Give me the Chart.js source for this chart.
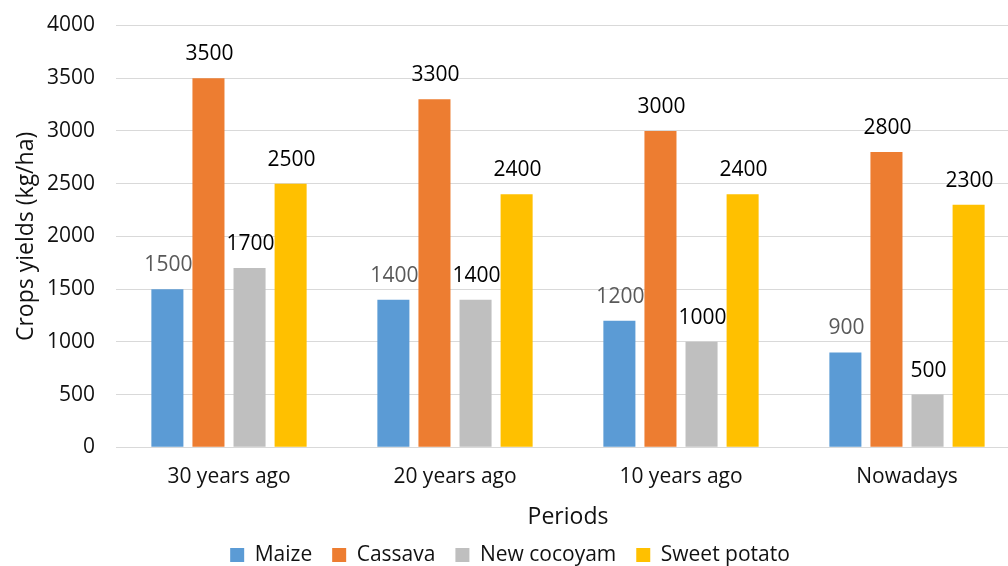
<!DOCTYPE html>
<html>
<head>
<meta charset="utf-8">
<script src="https://cdn.jsdelivr.net/npm/chart.js@4"></script>
<style>
  html, body { margin: 0; padding: 0; background: #ffffff; overflow: hidden; }
  #wrap { width: 1028px; height: 566px; }
</style>
</head>
<body>
<div id="wrap"><canvas id="chart" width="1028" height="566"></canvas></div>
<script>
// Crop yields per period (kg/ha)
const periods = ['30 years ago', '20 years ago', '10 years ago', 'Nowadays'];
const maize = [1500, 1400, 1200, 900];
const cassava = [3500, 3300, 3000, 2800];
const newCocoyam = [1700, 1400, 1000, 500];
const sweetPotato = [2500, 2400, 2400, 2300];
const yTicks = [0, 500, 1000, 1500, 2000, 2500, 3000, 3500, 4000];

const FONT = "'Open Sans', 'Liberation Sans', sans-serif";
const TEXT = '#111111';

// Writes each bar's value just above it
const valueLabels = {
  id: 'valueLabels',
  afterDatasetsDraw(chart) {
    const ctx = chart.ctx;
    ctx.save();
    ctx.font = '21px ' + FONT;
    ctx.textAlign = 'center';
    ctx.textBaseline = 'alphabetic';
    chart.data.datasets.forEach((ds, i) => {
      const meta = chart.getDatasetMeta(i);
      ctx.fillStyle = ds.labelColor;
      meta.data.forEach((bar, j) => {
        ctx.fillText(String(ds.data[j]), bar.x + 1, bar.y - 18);
      });
    });
    ctx.restore();
  }
};

new Chart(document.getElementById('chart'), {
  type: 'bar',
  data: {
    labels: periods,
    datasets: [
      { label: 'Maize', data: maize, backgroundColor: '#5b9bd5', labelColor: '#595959' },
      { label: 'Cassava', data: cassava, backgroundColor: '#ed7d31', labelColor: '#000000' },
      { label: 'New cocoyam', data: newCocoyam, backgroundColor: '#bfbfbf', labelColor: '#000000' },
      { label: 'Sweet potato', data: sweetPotato, backgroundColor: '#ffc000', labelColor: '#000000' }
    ]
  },
  options: {
    responsive: false,
    animation: false,
    devicePixelRatio: 1,
    layout: { padding: { top: 25.5, left: 0, right: 8, bottom: -9.5 } },
    datasets: { bar: { categoryPercentage: 0.727, barPercentage: 0.78 } },
    plugins: {
      tooltip: { enabled: false },
      legend: {
        position: 'bottom',
        labels: {
          font: { family: FONT, size: 21 },
          color: TEXT,
          boxWidth: 14,
          boxHeight: 14,
          padding: 20
        }
      }
    },
    scales: {
      x: {
        grid: { display: false, drawTicks: false },
        border: { display: true, color: '#d9d9d9' },
        ticks: { font: { family: FONT, size: 21 }, color: TEXT, padding: 17 },
        title: {
          display: true, text: 'Periods',
          font: { family: FONT, size: 23, lineHeight: 1 }, color: TEXT,
          padding: { top: -1, bottom: -4 }
        }
      },
      y: {
        min: 0,
        max: 4000,
        afterBuildTicks(scale) { scale.ticks = yTicks.map(v => ({ value: v })); },
        afterFit(scale) {
          scale.width = 116;
          scale.paddingTop = 0;
          scale.paddingBottom = 0;
        },
        grid: { color: '#d9d9d9', lineWidth: 1, drawTicks: false },
        border: { display: false },
        ticks: { font: { family: FONT, size: 21 }, color: TEXT, padding: 21, callback: v => String(v) },
        title: {
          display: true, text: 'Crops yields (kg/ha)',
          font: { family: FONT, size: 23, lineHeight: 1 }, color: TEXT,
          padding: { top: 15, bottom: 0 }
        }
      }
    }
  },
  plugins: [valueLabels]
});
</script>
</body>
</html>
